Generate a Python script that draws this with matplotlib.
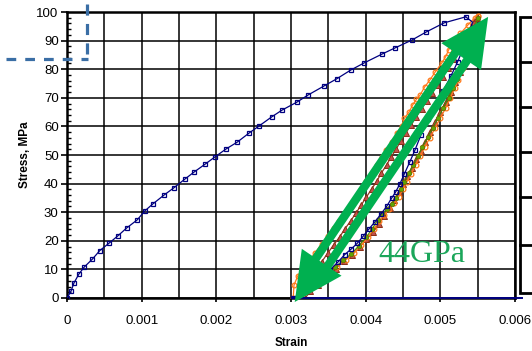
import numpy as np
import matplotlib
matplotlib.use("Agg")
import matplotlib.pyplot as plt
from matplotlib.patches import Polygon, Rectangle
from matplotlib.lines import Line2D
from matplotlib.transforms import IdentityTransform
from matplotlib.ticker import MultipleLocator

# ---------------- data ----------------
navy_load_x = [0, 0.000054, 0.000094, 0.00016, 0.00023, 0.00034, 0.00044, 0.00056, 0.00068,
               0.0008, 0.00094, 0.00104, 0.00115, 0.0013, 0.00143, 0.00158, 0.0017, 0.00185,
               0.00198, 0.00213, 0.00228, 0.00244, 0.00257, 0.00274, 0.00288, 0.00308, 0.00323,
               0.00344, 0.00361, 0.0038, 0.00398, 0.00422, 0.00439, 0.00462, 0.00481, 0.00505, 0.00534]
navy_load_y = [0, 2.4, 5.3, 8.4, 10.8, 13.6, 16.6, 19.1, 21.7, 24.5, 27.3, 30.4, 32.9, 36, 38.5,
               41.6, 44, 46.8, 49.3, 52.1, 54.5, 57.7, 60.1, 63.3, 65.7, 68.5, 71, 74.1, 76.6,
               79.7, 82.2, 85.3, 87.4, 90.2, 93, 96.2, 98.3]

navy_unload_x = [0.00534, 0.00543, 0.00537, 0.00531, 0.00523, 0.00514, 0.00504, 0.00494, 0.00484,
                 0.00474, 0.00466, 0.00459, 0.00452, 0.00446, 0.00440, 0.00435, 0.00428, 0.00420,
                 0.00412, 0.00404, 0.00397, 0.00389, 0.00381, 0.00372, 0.00363, 0.00352, 0.00340,
                 0.00326, 0.00303]
navy_unload_y = [98.3, 96.5, 91.5, 87.5, 82.5, 77.5, 72.5, 67.5, 62.5, 57, 51.7, 47.5, 43.5, 40,
                 37, 35, 32, 29.2, 26.5, 24, 21.7, 19.2, 17.2, 15.2, 12.6, 9.8, 6.8, 3.8, 0]

orange_load_x = [0.00303, 0.00304, 0.00309, 0.0032, 0.00332, 0.00341, 0.00349, 0.00357, 0.00364,
                 0.00372, 0.0038, 0.00387, 0.00394, 0.004, 0.00408, 0.00415, 0.00422, 0.00427,
                 0.00435, 0.00442, 0.00448, 0.00452, 0.00458, 0.00463, 0.00468, 0.00473, 0.00479,
                 0.00486, 0.00493, 0.00502, 0.00507, 0.00511, 0.00518, 0.00527, 0.00537, 0.00546, 0.0055]
orange_load_y = [0, 4.5, 7.7, 11.5, 15.7, 18.9, 21.7, 24.5, 26.9, 29.7, 32.2, 35.2, 38.1, 40.9,
                 43.7, 46.5, 49.3, 51.7, 54.5, 57.7, 60.1, 62.9, 65, 67.5, 69.5, 71, 73.8, 76.2,
                 79, 82.2, 84.3, 86.7, 89.5, 92.5, 95.5, 97.9, 98.6]

orange_unload_x = [0.00311, 0.00318, 0.00328, 0.00340, 0.00351, 0.00362, 0.00373, 0.00384, 0.00394,
                   0.00403, 0.00411, 0.00418, 0.00425, 0.00431, 0.00438, 0.00444, 0.00450, 0.00455,
                   0.00461, 0.00467, 0.00473, 0.00479, 0.00486, 0.00493, 0.00500, 0.00507, 0.00513,
                   0.00519, 0.00524, 0.00530, 0.00536, 0.00541, 0.00546, 0.0055]
orange_unload_y = [0, 2.4, 4.9, 7.3, 9.3, 11, 13.4, 15.6, 18.4, 21.2, 24.1, 27, 29, 31, 33.1, 35.2,
                   38.1, 40.5, 43.5, 46.5, 49.6, 52.7, 56, 59.4, 62.9, 66.3, 69.8, 73.3, 76.3, 80.3,
                   84.6, 88.8, 93.6, 98.6]

green_x = [0.00309, 0.00316, 0.00326, 0.00338, 0.00349, 0.00359, 0.00370, 0.00381, 0.00391, 0.00401,
           0.00409, 0.00416, 0.00422, 0.00428, 0.00435, 0.00441, 0.00447, 0.00452, 0.00458, 0.00464,
           0.00470, 0.00476, 0.00483, 0.00490, 0.00497, 0.00504, 0.00511, 0.00517, 0.00522, 0.00528,
           0.00534, 0.00540, 0.00545, 0.0055]
green_y = [0, 2.5, 5.0, 7.4, 9.2, 10.8, 13.2, 15.5, 18.3, 21.3, 24.3, 27.3, 29.2, 31, 33, 35, 38,
           40.6, 43.6, 46.6, 49.7, 52.8, 56.2, 59.6, 63, 66.5, 70, 73.5, 76.5, 80.5, 84.5, 89, 93.5, 98]

brown_load_x = [0.00310, 0.00316, 0.00323, 0.00332, 0.00341, 0.00349, 0.00357, 0.00365, 0.00372,
                0.00380, 0.00387, 0.00394, 0.00401, 0.00408, 0.00415, 0.00421, 0.00428, 0.00434,
                0.00441, 0.00447, 0.00454, 0.00461, 0.00468, 0.00475, 0.00482, 0.00489, 0.00496,
                0.00503, 0.00510, 0.00518, 0.00526, 0.00535, 0.00545]
brown_load_y = [0, 3.5, 6.5, 9.5, 12.6, 15.6, 18.5, 21.3, 24.1, 27, 29.7, 32.5, 35.3, 38.1, 40.9,
                43.7, 46.5, 49.3, 52.1, 55, 57.8, 60.6, 63.4, 66.2, 69, 71.8, 74.6, 77.4, 80.4,
                83.6, 87, 91.5, 96.5]

brown_unload_x = [0.00319, 0.00326, 0.00336, 0.00348, 0.00360, 0.00371, 0.00382, 0.00392, 0.00401,
                  0.00410, 0.00418, 0.00425, 0.00432, 0.00438, 0.00444, 0.00450, 0.00456, 0.00462,
                  0.00468, 0.00474, 0.00480, 0.00486, 0.00493, 0.00500, 0.00507, 0.00514, 0.00520,
                  0.00526, 0.00531, 0.00536, 0.00541, 0.00545, 0.00549]
brown_unload_y = [0, 2.3, 4.7, 7.2, 10.3, 13, 15.2, 17.8, 20.5, 23, 26, 28.8, 31.5, 34.2, 37, 39.8,
                  42.5, 45.5, 48.5, 51.5, 54.7, 58, 61.5, 65, 68.5, 72, 75.5, 79, 82.5, 86.5, 90.5,
                  94.5, 98]

baseline_x = [0.00303, 0.0061]
baseline_y = [0, 0]

arrow_low = (0.00305, -1.4)
arrow_high = (0.00564, 98.3)
modulus_label = "44GPa"
modulus_pos = (0.00475, 15.3)

x_ticks = [0, 0.001, 0.002, 0.003, 0.004, 0.005, 0.006]
x_tick_labels = ["0", "0.001", "0.002", "0.003", "0.004", "0.005", "0.006"]
y_ticks = [0, 10, 20, 30, 40, 50, 60, 70, 80, 90, 100]

# ---------------- figure ----------------
W, H = 532, 351
fig = plt.figure(figsize=(W / 100, H / 100), dpi=100)
plt.rcParams['font.family'] = ['Liberation Sans', 'DejaVu Sans']
plt.rcParams['lines.scale_dashes'] = False

L, R, T, B = 67, 515, 12, 298
ax = fig.add_axes([L / W, 1 - B / H, (R - L) / W, (B - T) / H])
ax.set_xlim(0, 0.006)
ax.set_ylim(0, 100)

ax.xaxis.set_minor_locator(MultipleLocator(0.0005))
ax.yaxis.set_minor_locator(MultipleLocator(2))
ax.set_xticks(x_ticks)
ax.set_xticklabels(x_tick_labels)
ax.set_yticks(y_ticks)
ax.grid(True, which='major', axis='y', color='black', lw=1.1)
ax.grid(True, which='both', axis='x', color='black', lw=1.1)
ax.set_axisbelow(True)
ax.tick_params(axis='y', which='major', direction='out', length=4, width=1.2, labelsize=9.5, pad=2)
ax.tick_params(axis='y', which='minor', direction='in', length=3, width=1)
ax.tick_params(axis='x', which='major', direction='out', length=3, width=1.2, labelsize=9.5, pad=9)
ax.tick_params(axis='x', which='minor', length=0)
for s in ax.spines.values():
    s.set_linewidth(1.8)
    s.set_color('black')

navy = '#000080'
orange = '#FF7A1A'
green = '#5FA800'

ax.plot(navy_load_x, navy_load_y, color=navy, lw=0.9, marker='s', ms=3.2, mfc='none', mew=0.9, zorder=5)
ax.plot(navy_unload_x, navy_unload_y, color=navy, lw=0.9, zorder=5)
ax.plot(navy_unload_x[2:], navy_unload_y[2:], ls='none', color=navy, marker='s', ms=3.2, mfc='none', mew=0.9, zorder=5)
ax.plot(orange_load_x, orange_load_y, color=orange, lw=0.9, marker='o', ms=3.4, mfc='none', mew=0.9, zorder=4)
ax.plot(brown_load_x, brown_load_y, color='#8B3A1E', lw=0.9, marker='^', ms=4, mfc='#C0504D', mec='#8B2E14', mew=0.7, zorder=4)
ax.plot(brown_unload_x, brown_unload_y, color='#8B3A1E', lw=0.9, marker='^', ms=4, mfc='#C0504D', mec='#8B2E14', mew=0.7, zorder=4)
ax.plot(orange_unload_x, orange_unload_y, color=orange, lw=0.9, marker='o', ms=3.4, mfc='none', mew=0.9, zorder=4)
ax.plot(green_x, green_y, color='#3C8C00', lw=0.8, marker='o', ms=3.2, mfc=green, mec='#6B6B00', mew=0.6, zorder=4)
ax.plot(baseline_x, baseline_y, color=navy, lw=1.4, clip_on=False, zorder=6)

# ---- green arrows (display pixel space) ----
fig.canvas.draw()
p_dn = ax.transData.transform(arrow_low)
p_up = ax.transData.transform(arrow_high)
u = (p_up - p_dn) / np.linalg.norm(p_up - p_dn)
n = np.array([-u[1], u[0]])
HL, HW = 48, 48
SW, OFF = 8.5, 7.0
arrow_green = '#00B050'
ident = IdentityTransform()
bu = p_up - HL * u
bd = p_dn + HL * u
for tip, base in ((p_up, bu), (p_dn, bd)):
    poly = Polygon([tip, base + HW / 2 * n, base - HW / 2 * n], closed=True,
                   facecolor=arrow_green, edgecolor='none', transform=ident, zorder=10)
    fig.add_artist(poly)
for sgn in (1, -1):
    c = sgn * OFF * n
    a0 = bd - 10 * u + c
    a1 = bu + 10 * u + c
    poly = Polygon([a0 + SW / 2 * n, a1 + SW / 2 * n, a1 - SW / 2 * n, a0 - SW / 2 * n], closed=True,
                   facecolor=arrow_green, edgecolor='none', transform=ident, zorder=10)
    fig.add_artist(poly)

ax.text(modulus_pos[0], modulus_pos[1], modulus_label, color='#1BA65A', fontsize=23,
        family=['Liberation Serif', 'DejaVu Serif'], ha='center', va='center', zorder=11)

# ---- axis labels ----
fig.text(25 / W, 1 - 155 / H, 'Stress, MPa', rotation=90, ha='center', va='center',
         fontsize=8.5, fontweight='bold')
fig.text(291 / W, 1 - 343 / H, 'Strain', ha='center', va='center', fontsize=8.5, fontweight='bold')

# ---- dashed guide lines ----
dash_col = '#3A6EA5'
fig.add_artist(Line2D([6, 88], [H - 59, H - 59], color=dash_col, lw=2.3, dashes=(7, 6.5), transform=ident))
fig.add_artist(Line2D([87, 87], [H - 4, H - 59], color=dash_col, lw=2.3, dashes=(8, 6), transform=ident))

# ---- partial box on right ----
fig.add_artist(Rectangle((520, H - 293), 30, 276, facecolor='white', edgecolor='black', lw=2,
                         transform=ident, clip_on=False))
for yy in (62, 107, 152, 197, 245):
    fig.add_artist(Line2D([520, 532], [H - yy, H - yy], color='black', lw=2, transform=ident))

fig.savefig('out.png', dpi=100)
